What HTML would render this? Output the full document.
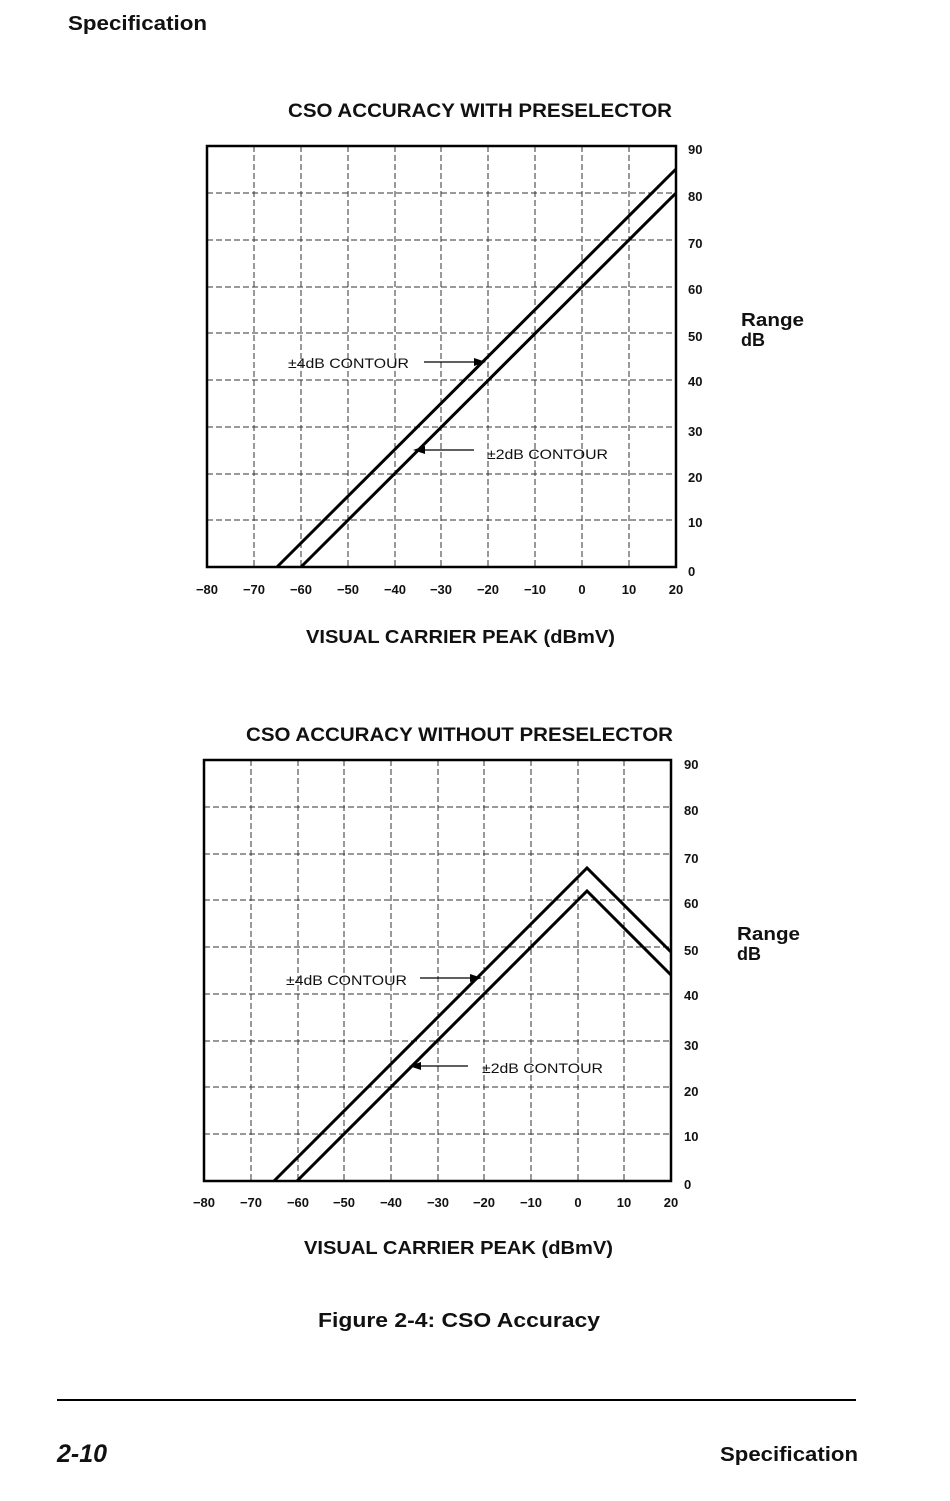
<!DOCTYPE html>
<html><head><meta charset="utf-8"><style>
html,body{margin:0;padding:0;background:#fff;}
svg{display:block;}
text{font-family:"Liberation Sans",Arial,sans-serif;fill:#111;}
.b{font-weight:bold;}
</style></head><body>
<svg width="950" height="1501" viewBox="0 0 950 1501" xmlns="http://www.w3.org/2000/svg">
<text x="68" y="30" class="b" font-size="20" textLength="139" lengthAdjust="spacingAndGlyphs">Specification</text>

<!-- Chart 1 -->
<text x="288" y="117" class="b" font-size="19" textLength="384" lengthAdjust="spacingAndGlyphs">CSO ACCURACY WITH PRESELECTOR</text>
<g stroke="#333" stroke-width="1" stroke-dasharray="6,3" fill="none">
  <path d="M254 146V567M301 146V567M348 146V567M395 146V567M441 146V567M488 146V567M535 146V567M582 146V567M629 146V567"/>
  <path d="M207 193H676M207 240H676M207 287H676M207 333H676M207 380H676M207 427H676M207 474H676M207 520H676"/>
</g>
<rect x="207" y="146" width="469" height="421" fill="none" stroke="#000" stroke-width="2.5"/>
<polyline points="277,567 676,169" fill="none" stroke="#000" stroke-width="3"/>
<polyline points="301,567 676,193" fill="none" stroke="#000" stroke-width="3"/>
<text x="288" y="368" font-size="14" textLength="121" lengthAdjust="spacingAndGlyphs">±4dB CONTOUR</text>
<line x1="424" y1="362" x2="480" y2="362" stroke="#000" stroke-width="1.2"/>
<polygon points="486,362 474,358 474,366" fill="#000"/>
<text x="487" y="459" font-size="14" textLength="121" lengthAdjust="spacingAndGlyphs">±2dB CONTOUR</text>
<line x1="420" y1="450" x2="474" y2="450" stroke="#000" stroke-width="1.2"/>
<polygon points="413,450 425,446 425,454" fill="#000"/>
<g class="b" font-size="13" text-anchor="middle">
<text x="207" y="594">−80</text><text x="254" y="594">−70</text><text x="301" y="594">−60</text><text x="348" y="594">−50</text><text x="395" y="594">−40</text><text x="441" y="594">−30</text><text x="488" y="594">−20</text><text x="535" y="594">−10</text><text x="582" y="594">0</text><text x="629" y="594">10</text><text x="676" y="594">20</text>
</g>
<g class="b" font-size="13">
<text x="688" y="154">90</text><text x="688" y="201">80</text><text x="688" y="248">70</text><text x="688" y="294">60</text><text x="688" y="341">50</text><text x="688" y="386">40</text><text x="688" y="436">30</text><text x="688" y="482">20</text><text x="688" y="527">10</text><text x="688" y="576">0</text>
</g>
<text x="741" y="326" class="b" font-size="18" textLength="63" lengthAdjust="spacingAndGlyphs">Range</text>
<text x="741" y="346" class="b" font-size="18">dB</text>
<text x="306" y="643" class="b" font-size="18" textLength="309" lengthAdjust="spacingAndGlyphs">VISUAL CARRIER PEAK (dBmV)</text>

<!-- Chart 2 -->
<text x="246" y="741" class="b" font-size="19" textLength="427" lengthAdjust="spacingAndGlyphs">CSO ACCURACY WITHOUT PRESELECTOR</text>
<g stroke="#333" stroke-width="1" stroke-dasharray="6,3" fill="none">
  <path d="M251 760V1181M298 760V1181M344 760V1181M391 760V1181M438 760V1181M484 760V1181M531 760V1181M578 760V1181M624 760V1181"/>
  <path d="M204 807H671M204 854H671M204 900H671M204 947H671M204 994H671M204 1041H671M204 1087H671M204 1134H671"/>
</g>
<rect x="204" y="760" width="467" height="421" fill="none" stroke="#000" stroke-width="2.5"/>
<polyline points="274,1181 587,868 671,952" fill="none" stroke="#000" stroke-width="3"/>
<polyline points="297,1181 587,891 671,975" fill="none" stroke="#000" stroke-width="3"/>
<text x="286" y="985" font-size="14" textLength="121" lengthAdjust="spacingAndGlyphs">±4dB CONTOUR</text>
<line x1="420" y1="978" x2="476" y2="978" stroke="#000" stroke-width="1.2"/>
<polygon points="482,978 470,974 470,982" fill="#000"/>
<text x="482" y="1073" font-size="14" textLength="121" lengthAdjust="spacingAndGlyphs">±2dB CONTOUR</text>
<line x1="416" y1="1066" x2="468" y2="1066" stroke="#000" stroke-width="1.2"/>
<polygon points="409,1066 421,1062 421,1070" fill="#000"/>
<g class="b" font-size="13" text-anchor="middle">
<text x="204" y="1207">−80</text><text x="251" y="1207">−70</text><text x="298" y="1207">−60</text><text x="344" y="1207">−50</text><text x="391" y="1207">−40</text><text x="438" y="1207">−30</text><text x="484" y="1207">−20</text><text x="531" y="1207">−10</text><text x="578" y="1207">0</text><text x="624" y="1207">10</text><text x="671" y="1207">20</text>
</g>
<g class="b" font-size="13">
<text x="684" y="769">90</text><text x="684" y="815">80</text><text x="684" y="863">70</text><text x="684" y="908">60</text><text x="684" y="955">50</text><text x="684" y="1000">40</text><text x="684" y="1050">30</text><text x="684" y="1096">20</text><text x="684" y="1141">10</text><text x="684" y="1189">0</text>
</g>
<text x="737" y="940" class="b" font-size="18" textLength="63" lengthAdjust="spacingAndGlyphs">Range</text>
<text x="737" y="960" class="b" font-size="18">dB</text>
<text x="304" y="1254" class="b" font-size="18" textLength="309" lengthAdjust="spacingAndGlyphs">VISUAL CARRIER PEAK (dBmV)</text>

<text x="318" y="1327" class="b" font-size="20" textLength="282" lengthAdjust="spacingAndGlyphs">Figure 2-4:  CSO Accuracy</text>

<line x1="57" y1="1400" x2="856" y2="1400" stroke="#000" stroke-width="2"/>
<text x="57" y="1462" class="b" font-size="25" font-style="italic">2-10</text>
<text x="720" y="1461" class="b" font-size="20" textLength="138" lengthAdjust="spacingAndGlyphs">Specification</text>
</svg>
</body></html>
